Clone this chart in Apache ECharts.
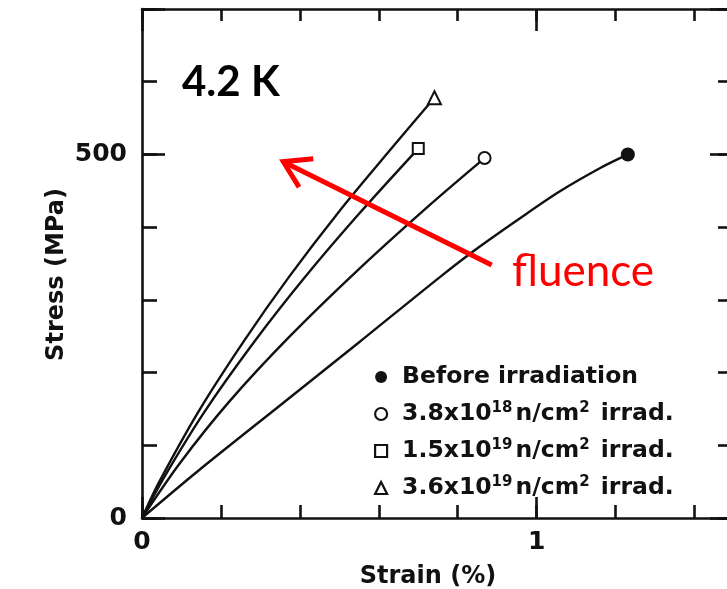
<!DOCTYPE html>
<html>
<head>
<meta charset="utf-8">
<script src="https://cdn.jsdelivr.net/npm/echarts@6/dist/echarts.min.js"></script>
<style>
  html, body { margin: 0; padding: 0; background: #ffffff; }
  #chart { width: 727px; height: 589px; }
</style>
</head>
<body>
<div id="chart"></div>
<script>
// Stress-strain curves at 4.2 K, before and after neutron irradiation
const legendNames = [
  'Before irradiation',
  '3.8x10^18n/cm^2 irrad.',
  '1.5x10^19n/cm^2 irrad.',
  '3.6x10^19n/cm^2 irrad.'
];

// strain (%), stress (MPa)
const strainBefore = [0, 0.145, 0.348, 0.551, 0.754, 0.855, 0.957, 1.058, 1.160, 1.231];
const stressBefore = [0, 66, 154, 242, 331, 373, 412, 449, 481, 500];

const strain38e18 = [0, 0.094, 0.221, 0.373, 0.551, 0.728, 0.868];
const stress38e18 = [0, 74, 160, 249, 343, 430, 495];

const strain15e19 = [0, 0.056, 0.157, 0.284, 0.411, 0.551, 0.700];
const stress15e19 = [0, 56, 145, 242, 330, 419, 508];

const strain36e19 = [0, 0.043, 0.145, 0.259, 0.373, 0.500, 0.627, 0.741];
const stress36e19 = [0, 49, 148, 244, 332, 422, 505, 578];

// "fluence" arrow, in strain / stress units
const arrowShaft = [[0.886, 348], [0.358, 490]];
const arrowHead = [[0.434, 494], [0.358, 490], [0.398, 455]];

const xLabelValues = [0, 1];
const yLabelValues = [0, 500];

const ink = '#111111';
const pairs = (xs, ys) => xs.map((x, i) => [x, ys[i]]);

function curve(name, xs, ys, symbol, size, filled) {
  const data = pairs(xs, ys);
  const last = data.length - 1;
  return {
    name: name,
    type: 'line',
    xAxisIndex: 0,
    yAxisIndex: 0,
    data: data,
    smooth: 0.3,
    showAllSymbol: true,
    symbol: (v, p) => (p.dataIndex === last ? symbol : 'none'),
    symbolSize: size,
    lineStyle: { color: ink, width: 2.4 },
    itemStyle: filled
      ? { color: ink, borderWidth: 0 }
      : { color: ink, borderColor: ink, borderWidth: 2.4 },
    z: 3
  };
}

const axisLineStyle = { color: ink, width: 2.6 };
const tickStyle = { color: ink, width: 2.6 };
const labelFont = { fontFamily: 'DejaVu Sans', fontWeight: 'bold', fontSize: 25, color: ink };
const nameFont = { fontFamily: 'DejaVu Sans', fontWeight: 'bold', fontSize: 24, color: ink };

function xAx(grid, position, interval, tickLen, opts) {
  return Object.assign({
    type: 'value', gridIndex: grid, min: 0, max: 1.5, interval: interval, position: position,
    axisLine: { show: false, onZero: false }, splitLine: { show: false },
    axisTick: { show: true, inside: true, length: tickLen, lineStyle: tickStyle },
    axisLabel: { show: false }
  }, opts || {});
}
function yAx(grid, position, interval, tickLen, opts) {
  return Object.assign({
    type: 'value', gridIndex: grid, min: 0, max: 700, interval: interval, position: position,
    axisLine: { show: false, onZero: false }, splitLine: { show: false },
    axisTick: { show: true, inside: true, length: tickLen, lineStyle: tickStyle },
    axisLabel: { show: false }
  }, opts || {});
}

const gridRect = { left: 142, top: 9, right: -7, bottom: 71, outerBoundsMode: 'none', containLabel: false };

const chart = echarts.init(document.getElementById('chart'), null, { renderer: 'canvas' });

chart.setOption({
  animation: false,
  backgroundColor: '#ffffff',
  // grid 0 carries the data and the short ticks, grid 1 the long ticks at 1 % and 500 MPa
  grid: [Object.assign({}, gridRect), Object.assign({}, gridRect)],
  xAxis: [
    xAx(0, 'bottom', 0.2, 13, {
      axisLine: { show: true, onZero: false, lineStyle: axisLineStyle },
      axisLabel: Object.assign({
        show: true, margin: 12,
        formatter: v => (xLabelValues.indexOf(v) >= 0 ? String(v) : '')
      }, labelFont),
      name: 'Strain (%)', nameLocation: 'middle', nameGap: 47, nameMoveOverlap: false,
      nameTextStyle: Object.assign({ padding: [0, 20, 0, 0] }, nameFont)
    }),
    xAx(0, 'top', 0.2, 12, { axisLine: { show: true, onZero: false, lineStyle: axisLineStyle } }),
    xAx(1, 'bottom', 1, 21),
    xAx(1, 'top', 1, 22)
  ],
  yAxis: [
    yAx(0, 'left', 100, 15, {
      axisLine: { show: true, onZero: false, lineStyle: axisLineStyle },
      axisLabel: Object.assign({
        show: true, margin: 15,
        formatter: v => (yLabelValues.indexOf(v) >= 0 ? String(v) : '')
      }, labelFont),
      name: 'Stress (MPa)', nameLocation: 'middle', nameGap: 73, nameMoveOverlap: false,
      nameTextStyle: Object.assign({ padding: [0, 22, 0, 0] }, nameFont)
    }),
    yAx(0, 'right', 100, 16, { axisLine: { show: true, onZero: false, lineStyle: axisLineStyle } }),
    yAx(1, 'left', 500, 23),
    yAx(1, 'right', 500, 24)
  ],
  legend: {
    orient: 'vertical',
    left: 369,
    top: 360,
    itemWidth: 12,
    itemHeight: 12,
    itemGap: 12,
    selectedMode: false,
    data: [
      { name: legendNames[0], icon: 'circle', itemStyle: { color: ink, borderWidth: 0 } },
      { name: legendNames[1], icon: 'circle', itemStyle: { color: '#ffffff', borderColor: ink, borderWidth: 2.2 } },
      { name: legendNames[2], icon: 'rect', itemStyle: { color: '#ffffff', borderColor: ink, borderWidth: 2.2 } },
      { name: legendNames[3], icon: 'triangle', itemStyle: { color: '#ffffff', borderColor: ink, borderWidth: 2.2 } }
    ],
    formatter: name => '{gap|}{t|' + name.replace(/\^(\d+)/g, '}{sup|$1}{t|') + '}',
    textStyle: {
      fontFamily: 'DejaVu Sans', fontWeight: 'bold', fontSize: 23, color: ink,
      rich: {
        gap: { width: 10 },
        t: { fontFamily: 'DejaVu Sans', fontWeight: 'bold', fontSize: 23.5, color: ink, lineHeight: 26 },
        sup: { fontFamily: 'DejaVu Sans', fontWeight: 'bold', fontSize: 15, color: ink, verticalAlign: 'top', padding: [0, 3, 0, 0] }
      }
    }
  },
  series: [
    curve(legendNames[0], strainBefore, stressBefore, 'circle', 14, true),
    curve(legendNames[1], strain38e18, stress38e18, 'emptyCircle', 12, false),
    curve(legendNames[2], strain15e19, stress15e19, 'emptyRect', 11, false),
    curve(legendNames[3], strain36e19, stress36e19, 'emptyTriangle', 13, false),
    {
      name: 'fluence-shaft', type: 'line', xAxisIndex: 0, yAxisIndex: 0,
      data: arrowShaft, symbol: 'none', silent: true,
      lineStyle: { color: '#ff0000', width: 5, cap: 'butt' }, z: 5
    },
    {
      name: 'fluence-head', type: 'line', xAxisIndex: 0, yAxisIndex: 0,
      data: arrowHead, symbol: 'none', silent: true,
      lineStyle: { color: '#ff0000', width: 5, cap: 'butt', join: 'miter' }, z: 5
    }
  ],
  graphic: [
    {
      type: 'text', left: 182, top: 61, z: 10,
      style: { text: '4.2 K', fill: '#000000', font: 'bold 42px Lato' }
    },
    {
      type: 'text', left: 512, top: 250, z: 10,
      style: { text: 'fluence', fill: '#ff0000', font: '44px Lato' }
    }
  ]
});
</script>
</body>
</html>
